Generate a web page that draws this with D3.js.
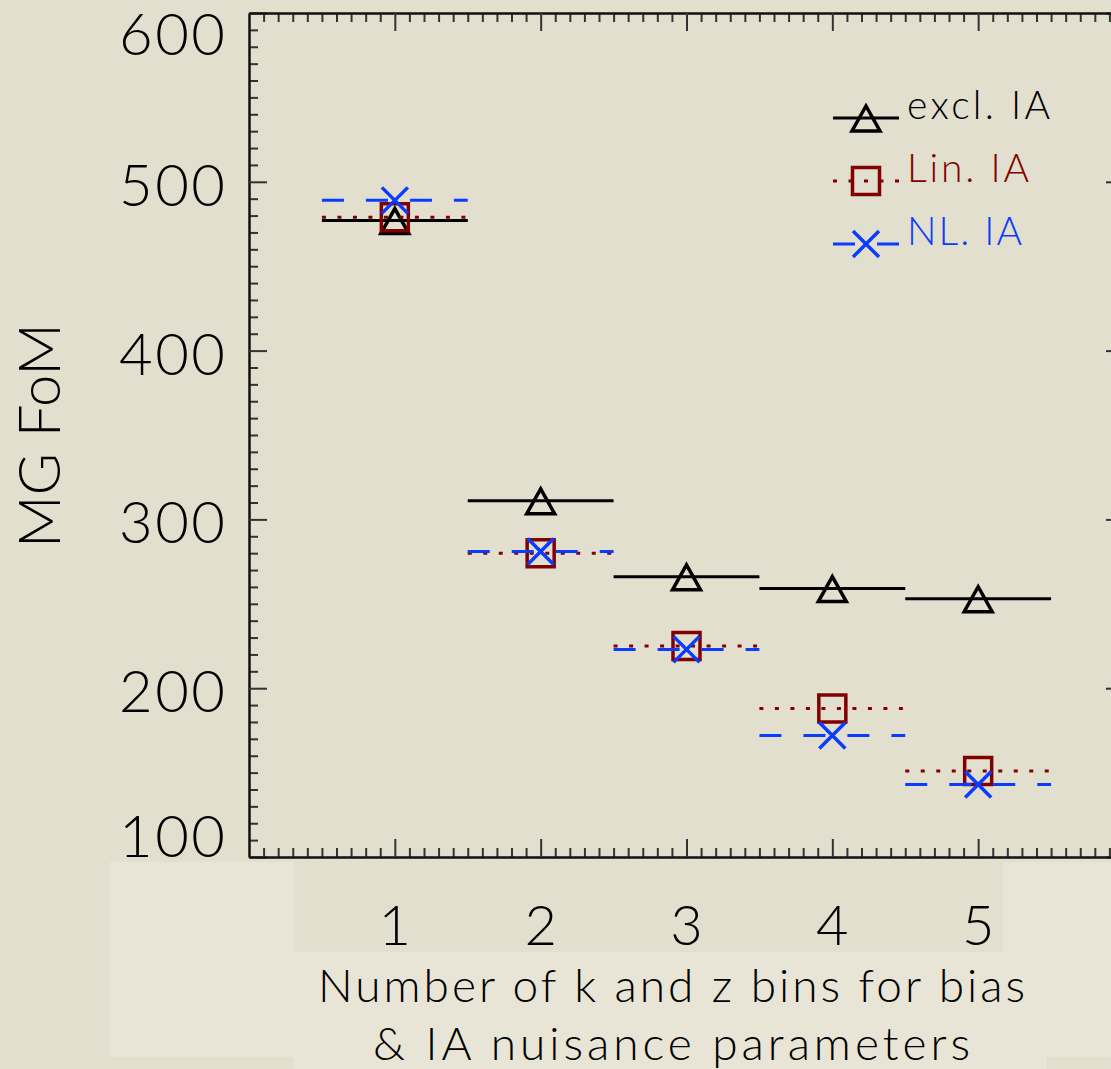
<!DOCTYPE html>
<html>
<head>
<meta charset="utf-8">
<script src="https://cdn.jsdelivr.net/npm/d3@7"></script>
<style>
  html, body { margin: 0; padding: 0; background: #e2dfcf; }
  text { font-family: Lato, "Open Sans", sans-serif; font-weight: 300; fill: #000; }
</style>
</head>
<body>
<div id="chart"></div>
<script>
(function(d3) {
  'use strict';

  // data
  var bins = [1, 2, 3, 4, 5];
  var exclIA = [477, 311, 266, 259, 253];
  var linIA = [479, 280, 225, 188, 151];
  var nlIA = [489, 281, 223, 172, 143];
  var seriesNames = ['excl. IA', 'Lin. IA', 'NL. IA'];
  var yTicks = [100, 200, 300, 400, 500, 600];
  var xTicks = [1, 2, 3, 4, 5];

  var width = 1111;
  var height = 1069;
  var left = 249, top = 13, right = 1124, bottom = 857;

  var series = [
    { name: seriesNames[0], values: exclIA, color: '#000000', dash: null, marker: 'tri' },
    { name: seriesNames[1], values: linIA, color: '#820000', dash: '4,11.5', marker: 'square' },
    { name: seriesNames[2], values: nlIA, color: '#0a3cff', dash: '22,22', marker: 'x' }
  ];

  var svg = d3.select('#chart')
    .append('svg')
    .attr('width', width)
    .attr('height', height);

  svg.append('rect').attr('width', width).attr('height', height).attr('fill', '#e2dfcf');

  // lighter patches round the bottom of the plot
  var light = '#e8e5d6';
  svg.append('rect').attr('x', 110).attr('y', 862).attr('width', 184).attr('height', 195).attr('fill', light);
  svg.append('rect').attr('x', 294).attr('y', 952).attr('width', 753).attr('height', 117).attr('fill', light);
  svg.append('rect').attr('x', 1003).attr('y', 862).attr('width', 108).attr('height', 195).attr('fill', light);

  var x = d3.scaleLinear().domain([0, 6]).range([left, right]);
  var y = d3.scaleLinear().domain([100, 600]).range([bottom, top]);

  var xMinor = d3.range(0, 60).map(function(i) { return i / 10; }).filter(function(v) { return v % 1 !== 0; });
  var yMinor = d3.range(100, 601, 10).filter(function(v) { return v % 100 !== 0; });

  function styleAxis(g) {
    g.selectAll('path').attr('stroke', '#111').attr('stroke-width', 2);
    g.selectAll('line').attr('stroke', '#333').attr('stroke-width', 2);
    g.selectAll('text').remove();
  }

  var axes = [
    { make: d3.axisRight, scale: y, tr: 'translate(' + left + ',0)', major: yTicks, minor: yMinor },
    { make: d3.axisLeft, scale: y, tr: 'translate(' + right + ',0)', major: yTicks, minor: yMinor },
    { make: d3.axisTop, scale: x, tr: 'translate(0,' + bottom + ')', major: xTicks, minor: xMinor },
    { make: d3.axisBottom, scale: x, tr: 'translate(0,' + top + ')', major: xTicks, minor: xMinor }
  ];
  axes.forEach(function(a) {
    svg.append('g').attr('transform', a.tr)
      .call(a.make(a.scale).tickValues(a.minor).tickSize(9).tickSizeOuter(0).tickFormat(''))
      .call(styleAxis);
    svg.append('g').attr('transform', a.tr)
      .call(a.make(a.scale).tickValues(a.major).tickSize(18).tickSizeOuter(0).tickFormat(''))
      .call(styleAxis);
  });

  // y tick labels, kept inside the axis range like the original
  var capH = 42;
  svg.selectAll('.ylab')
    .data(yTicks)
    .enter()
    .append('text')
    .attr('class', 'ylab')
    .attr('x', 225)
    .attr('y', function(d) {
      var base = y(d) + 24;
      return Math.max(top + capH, Math.min(bottom, base));
    })
    .attr('text-anchor', 'end')
    .attr('font-size', 58)
    .attr('textLength', 106).attr('lengthAdjust', 'spacing')
    .text(function(d) { return d; });

  svg.selectAll('.xlab')
    .data(xTicks)
    .enter()
    .append('text')
    .attr('class', 'xlab')
    .attr('x', function(d) { return x(d); })
    .attr('y', 945)
    .attr('text-anchor', 'middle')
    .attr('font-size', 56)
    .text(function(d) { return d; });

  svg.append('text')
    .attr('x', 671.5).attr('y', 1002)
    .attr('text-anchor', 'middle')
    .attr('font-size', 46)
    .attr('textLength', 707).attr('lengthAdjust', 'spacing')
    .text('Number of k and z bins for bias');
  svg.append('text')
    .attr('x', 671.5).attr('y', 1060)
    .attr('text-anchor', 'middle')
    .attr('font-size', 46)
    .attr('textLength', 597).attr('lengthAdjust', 'spacing')
    .text('& IA nuisance parameters');

  svg.append('text')
    .attr('transform', 'translate(60,435.5) rotate(-90)')
    .attr('text-anchor', 'middle')
    .attr('font-size', 58)
    .attr('textLength', 225).attr('lengthAdjust', 'spacing')
    .text('MG FoM');

  var markerPath = {
    tri: 'M0,-12L14,13L-14,13Z',
    square: 'M-13.5,-13.5h27v27h-27Z',
    x: 'M-13,-13L13,13M13,-13L-13,13'
  };

  var line = d3.line()
    .x(function(d) { return x(d[0]); })
    .y(function(d) { return y(d[1]); });

  series.forEach(function(s) {
    var g = svg.append('g');
    g.selectAll('path.step')
      .data(bins.map(function(b, i) { return [[b - 0.5, s.values[i]], [b + 0.5, s.values[i]]]; }))
      .enter()
      .append('path')
      .attr('class', 'step')
      .attr('d', line)
      .attr('fill', 'none')
      .attr('stroke', s.color)
      .attr('stroke-width', 3)
      .attr('stroke-dasharray', s.dash);
    g.selectAll('path.mark')
      .data(bins.map(function(b, i) { return [b, s.values[i]]; }))
      .enter()
      .append('path')
      .attr('class', 'mark')
      .attr('transform', function(d) { return 'translate(' + x(d[0]) + ',' + y(d[1]) + ')'; })
      .attr('d', markerPath[s.marker])
      .attr('fill', 'none')
      .attr('stroke', s.color)
      .attr('stroke-width', 3.5);
  });

  // legend
  var legendWidths = [143, 122, 115];
  var legend = svg.selectAll('.legend')
    .data(series)
    .enter()
    .append('g')
    .attr('class', 'legend')
    .attr('transform', function(d, i) { return 'translate(833,' + (118 + i * 63) + ')'; });

  legend.append('line')
    .attr('x1', 0).attr('x2', 66)
    .attr('stroke', function(d) { return d.color; })
    .attr('stroke-width', 3)
    .attr('stroke-dasharray', function(d) { return d.dash; });
  legend.append('path')
    .attr('transform', 'translate(33,0)')
    .attr('d', function(d) { return markerPath[d.marker]; })
    .attr('fill', 'none')
    .attr('stroke', function(d) { return d.color; })
    .attr('stroke-width', 3.5);
  legend.append('text')
    .attr('x', 74).attr('y', 1)
    .attr('font-size', 39)
    .attr('textLength', function(d, i) { return legendWidths[i]; })
    .attr('lengthAdjust', 'spacing')
    .style('fill', function(d) { return d.color; })
    .text(function(d) { return d.name; });

})(window.d3);
</script>
</body>
</html>
